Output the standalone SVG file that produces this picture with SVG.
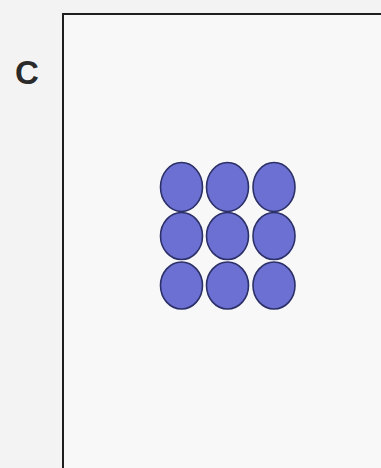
<svg xmlns="http://www.w3.org/2000/svg" width="381" height="468" viewBox="0 0 381 468">
<style>
.dot{fill:#6b70d2;stroke:#2c3068;stroke-width:1.6}
.lbl{font-family:"Liberation Sans",Arial,sans-serif;font-weight:bold;font-size:33px;fill:#2a2a2a}
</style>
<rect width="381" height="468" fill="#f3f3f3"/>
<g id="frame">
<rect x="63" y="14" width="330" height="470" fill="#f8f8f8" stroke="#1e1e1e" stroke-width="2"/>
</g>
<g id="label"><text class="lbl" x="15" y="84">C</text></g>
<g id="dots">
<ellipse class="dot" cx="181.5" cy="187" rx="21" ry="24.5"/>
<ellipse class="dot" cx="227.5" cy="187" rx="21" ry="24.5"/>
<ellipse class="dot" cx="274" cy="187" rx="21" ry="24.5"/>
<ellipse class="dot" cx="181.5" cy="236" rx="21" ry="23.5"/>
<ellipse class="dot" cx="227.5" cy="236" rx="21" ry="23.5"/>
<ellipse class="dot" cx="274" cy="236" rx="21" ry="23.5"/>
<ellipse class="dot" cx="181.5" cy="285.5" rx="21" ry="23.5"/>
<ellipse class="dot" cx="227.5" cy="285.5" rx="21" ry="23.5"/>
<ellipse class="dot" cx="274" cy="285.5" rx="21" ry="23.5"/>
</g>
</svg>
